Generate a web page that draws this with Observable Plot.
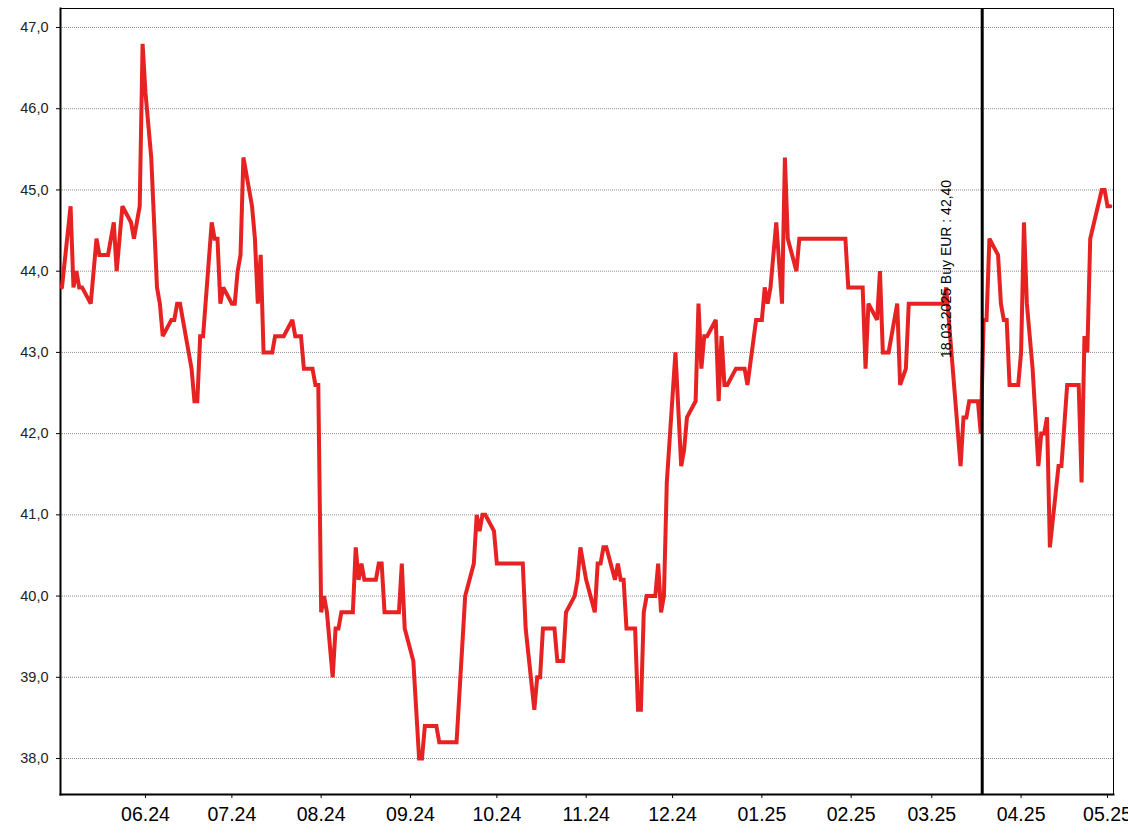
<!DOCTYPE html>
<html>
<head>
<meta charset="utf-8">
<script src="https://cdn.jsdelivr.net/npm/d3@7"></script>
<script src="https://cdn.jsdelivr.net/npm/@observablehq/plot@0.6"></script>
<style>
  html, body { margin: 0; padding: 0; background: #fff; }
  #chart svg { display: block; }
</style>
</head>
<body>
<div id="chart"></div>
<script>
// ---- data ----
const dates = [
"2024-05-03","2024-05-06","2024-05-07","2024-05-08","2024-05-09","2024-05-10","2024-05-13","2024-05-15","2024-05-16","2024-05-19",
"2024-05-21","2024-05-22","2024-05-24","2024-05-27","2024-05-28","2024-05-30","2024-05-31","2024-06-01","2024-06-03","2024-06-05",
"2024-06-06","2024-06-07","2024-06-10","2024-06-11","2024-06-12","2024-06-13","2024-06-17","2024-06-18","2024-06-19","2024-06-20",
"2024-06-21","2024-06-24","2024-06-25","2024-06-26","2024-06-27","2024-06-28","2024-07-01","2024-07-02","2024-07-03","2024-07-04",
"2024-07-05","2024-07-08","2024-07-09","2024-07-10","2024-07-11","2024-07-12","2024-07-15","2024-07-16","2024-07-19","2024-07-22",
"2024-07-23","2024-07-25","2024-07-26","2024-07-29","2024-07-30","2024-07-31","2024-08-01","2024-08-02","2024-08-03","2024-08-05",
"2024-08-06","2024-08-07","2024-08-08","2024-08-12","2024-08-13","2024-08-14","2024-08-15","2024-08-16","2024-08-20","2024-08-21",
"2024-08-22","2024-08-23","2024-08-28","2024-08-29","2024-08-30","2024-09-02","2024-09-04","2024-09-05","2024-09-06","2024-09-10",
"2024-09-11","2024-09-17","2024-09-20","2024-09-23","2024-09-24","2024-09-25","2024-09-26","2024-09-27","2024-09-30","2024-10-01",
"2024-10-10","2024-10-11","2024-10-14","2024-10-15","2024-10-16","2024-10-17","2024-10-21","2024-10-22","2024-10-24","2024-10-25",
"2024-10-28","2024-10-29","2024-10-30","2024-11-01","2024-11-04","2024-11-05","2024-11-06","2024-11-07","2024-11-08","2024-11-11",
"2024-11-12","2024-11-13","2024-11-14","2024-11-15","2024-11-18","2024-11-19","2024-11-20","2024-11-21","2024-11-22","2024-11-25",
"2024-11-26","2024-11-27","2024-11-28","2024-11-29","2024-12-02","2024-12-04","2024-12-05","2024-12-06","2024-12-09","2024-12-10",
"2024-12-11","2024-12-12","2024-12-13","2024-12-16","2024-12-17","2024-12-18","2024-12-19","2024-12-20","2024-12-23","2024-12-26",
"2024-12-27","2024-12-30","2025-01-01","2025-01-02","2025-01-03","2025-01-04","2025-01-06","2025-01-08","2025-01-09","2025-01-10",
"2025-01-13","2025-01-14","2025-01-30","2025-01-31","2025-02-05","2025-02-06","2025-02-07","2025-02-10","2025-02-11","2025-02-12",
"2025-02-14","2025-02-17","2025-02-18","2025-02-20","2025-02-21","2025-03-05","2025-03-06","2025-03-11","2025-03-12","2025-03-13",
"2025-03-14","2025-03-17","2025-03-18","2025-03-19","2025-03-20","2025-03-21","2025-03-24","2025-03-25","2025-03-26","2025-03-27",
"2025-03-28","2025-03-31","2025-04-01","2025-04-02","2025-04-03","2025-04-05","2025-04-07","2025-04-08","2025-04-09","2025-04-10",
"2025-04-11","2025-04-14","2025-04-15","2025-04-17","2025-04-21","2025-04-22","2025-04-23","2025-04-24","2025-04-25","2025-04-29",
"2025-04-30","2025-05-01","2025-05-02"
];
const prices = [
43.8,44.8,43.8,44.0,43.8,43.8,43.6,44.4,44.2,44.2,
44.6,44.0,44.8,44.6,44.4,44.8,46.8,46.2,45.4,43.8,
43.6,43.2,43.4,43.4,43.6,43.6,42.8,42.4,42.4,43.2,
43.2,44.6,44.4,44.4,43.6,43.8,43.6,43.6,44.0,44.2,
45.4,44.8,44.4,43.6,44.2,43.0,43.0,43.2,43.2,43.4,
43.2,43.2,42.8,42.8,42.6,42.6,39.8,40.0,39.8,39.0,
39.6,39.6,39.8,39.8,40.6,40.2,40.4,40.2,40.2,40.4,
40.4,39.8,39.8,40.4,39.6,39.2,38.0,38.0,38.4,38.4,
38.2,38.2,40.0,40.4,41.0,40.8,41.0,41.0,40.8,40.4,
40.4,39.6,38.6,39.0,39.0,39.6,39.6,39.2,39.2,39.8,
40.0,40.2,40.6,40.2,39.8,40.4,40.4,40.6,40.6,40.2,
40.4,40.2,40.2,39.6,39.6,38.6,38.6,39.8,40.0,40.0,
40.4,39.8,40.0,41.4,43.0,41.6,41.8,42.2,42.4,43.6,
42.8,43.2,43.2,43.4,42.4,43.2,42.6,42.6,42.8,42.8,
42.6,43.4,43.4,43.8,43.6,43.8,44.6,43.6,45.4,44.4,
44.0,44.4,44.4,43.8,43.8,42.8,43.6,43.4,44.0,43.0,
43.0,43.6,42.6,42.8,43.6,43.6,43.8,41.6,42.2,42.2,
42.4,42.4,42.0,43.4,43.4,44.4,44.2,43.6,43.4,43.4,
42.6,42.6,43.0,44.6,43.6,42.8,41.6,42.0,42.0,42.2,
40.6,41.6,41.6,42.6,42.6,41.4,43.2,43.0,44.4,45.0,
45.0,44.8,44.8
];
const yTicks = [38, 39, 40, 41, 42, 43, 44, 45, 46, 47];
const monthTicks = ["2024-06-01","2024-07-01","2024-08-01","2024-09-01","2024-10-01","2024-11-01",
                    "2024-12-01","2025-01-01","2025-02-01","2025-03-01","2025-04-01","2025-05-01"];
const buyDate = ["2025-03-18T12:00:00Z"];
const buyLabel = ["18.03.2025 Buy EUR : 42,40"];

// ---- build table ----
const series = dates.map((d, i) => ({date: new Date(d + "T00:00:00Z"), price: prices[i]}));
const monthTickDates = monthTicks.map(d => new Date(d + "T00:00:00Z"));
const buy = buyDate.map((d, i) => ({date: new Date(d), label: buyLabel[i]}));

const fmtY = v => v.toFixed(1).replace(".", ",");
const fmtX = d3.utcFormat("%m.%y");

const chart = Plot.plot({
  width: 1128,
  height: 836,
  marginLeft: 60,
  marginRight: 15,
  marginTop: 8,
  marginBottom: 42,
  style: {fontFamily: "'Liberation Sans', Arial, sans-serif", background: "#fff", overflow: "visible"},
  x: {type: "utc", domain: [new Date(Date.UTC(2024, 4, 2, 12)), new Date(Date.UTC(2025, 4, 3, 2))], label: null},
  y: {domain: [37.557, 47.234], label: null},
  marks: [
    Plot.ruleY(yTicks, {stroke: "#8c8c8c", strokeWidth: 1, strokeDasharray: "1,1"}),
    Plot.frame({stroke: "#000", strokeWidth: 1}),
    Plot.frame({anchor: "left", stroke: "#000", strokeWidth: 2}),
    Plot.frame({anchor: "bottom", stroke: "#000", strokeWidth: 2}),
    Plot.axisY({ticks: yTicks, tickFormat: fmtY, tickSize: 4, tickPadding: 8, fontSize: 14.5, fill: "#222", stroke: "#000", label: null}),
    Plot.axisX({ticks: monthTickDates, tickFormat: fmtX, tickSize: 4, tickPadding: 9, fontSize: 19.5, fill: "#000", stroke: "#000", label: null}),
    Plot.line(series, {x: "date", y: "price", stroke: "#e62222", strokeWidth: 4, strokeLinejoin: "miter", strokeMiterlimit: 3}),
    Plot.ruleX(buy, {x: "date", stroke: "#000", strokeWidth: 3}),
    Plot.text(buy, {x: "date", y: () => 42.93, text: "label", rotate: -90, textAnchor: "start", lineAnchor: "bottom",
                    dx: -31, fontSize: 14, fill: "#000"})
  ]
});
document.getElementById("chart").appendChild(chart);
</script>
</body>
</html>
